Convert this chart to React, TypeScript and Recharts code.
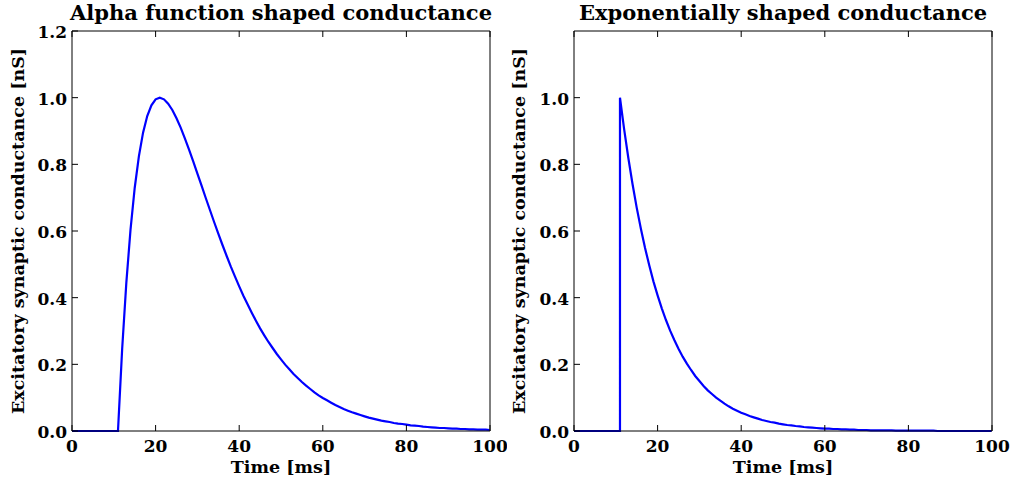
import React from 'react';
import { LineChart, Line, XAxis, YAxis } from 'recharts';

// Time samples (ms) shared by both traces after onset
const decayTimes = [
  12, 13, 14, 15, 16, 17, 18, 19, 20, 21,
  22, 23, 24, 25, 26, 27, 28, 29, 30, 31,
  32, 33, 34, 35, 36, 37, 38, 39, 40, 41,
  42, 43, 44, 45, 46, 47, 48, 49, 50, 51,
  52, 53, 54, 55, 56, 57, 58, 59, 60, 61,
  62, 63, 64, 65, 66, 67, 68, 69, 70, 71,
  72, 73, 74, 75, 76, 77, 78, 79, 80, 81,
  82, 83, 84, 85, 86, 87, 88, 89, 90, 91,
  92, 93, 94, 95, 96, 97, 98, 99, 99.9,
];

const alphaTimes = [0, 11, ...decayTimes];
const alphaValues = [
  0, 0,
  0.246, 0.445, 0.604, 0.729, 0.824, 0.895, 0.945, 0.977, 0.995, 1.0,
  0.995, 0.982, 0.963, 0.938, 0.91, 0.878, 0.844, 0.809, 0.772, 0.736,
  0.699, 0.663, 0.627, 0.592, 0.558, 0.525, 0.493, 0.463, 0.434, 0.406,
  0.38, 0.355, 0.331, 0.308, 0.287, 0.267, 0.249, 0.231, 0.215, 0.199,
  0.185, 0.171, 0.159, 0.147, 0.136, 0.126, 0.116, 0.107, 0.099, 0.092,
  0.085, 0.078, 0.072, 0.066, 0.061, 0.056, 0.052, 0.048, 0.044, 0.04,
  0.037, 0.034, 0.031, 0.029, 0.027, 0.024, 0.022, 0.021, 0.019, 0.017,
  0.016, 0.015, 0.013, 0.012, 0.011, 0.01, 0.009, 0.009, 0.008, 0.007,
  0.007, 0.006, 0.006, 0.005, 0.005, 0.004, 0.004, 0.004, 0.003,
];

const expTimes = [0, 11, 11, ...decayTimes];
const expValues = [
  0, 0, 1.0,
  0.905, 0.819, 0.741, 0.67, 0.607, 0.549, 0.497, 0.449, 0.407, 0.368,
  0.333, 0.301, 0.273, 0.247, 0.223, 0.202, 0.183, 0.165, 0.15, 0.135,
  0.122, 0.111, 0.1, 0.091, 0.082, 0.074, 0.067, 0.061, 0.055, 0.05,
  0.045, 0.041, 0.037, 0.033, 0.03, 0.027, 0.025, 0.022, 0.02, 0.018,
  0.017, 0.015, 0.014, 0.012, 0.011, 0.01, 0.009, 0.008, 0.007, 0.007,
  0.006, 0.006, 0.005, 0.005, 0.004, 0.004, 0.003, 0.003, 0.003, 0.002,
  0.002, 0.002, 0.002, 0.002, 0.002, 0.001, 0.001, 0.001, 0.001, 0.001,
  0.001, 0.001, 0.001, 0.001, 0.001, 0, 0, 0, 0, 0,
  0, 0, 0, 0, 0, 0, 0, 0, 0,
];

const xTicks = [0, 20, 40, 60, 80, 100];
const yTicksAlpha = [0, 0.2, 0.4, 0.6, 0.8, 1.0, 1.2];
const yTicksExp = [0, 0.2, 0.4, 0.6, 0.8, 1.0];

const titles = ['Alpha function shaped conductance', 'Exponentially shaped conductance'];
const xLabel = 'Time [ms]';
const yLabel = 'Excitatory synaptic conductance [nS]';

const FONT = '"DejaVu Serif", serif';
const TICK_LEN = 6;
const TICK_FS = 17;
const LABEL_FS = 17.5;
const TITLE_FS = 21;

const BottomTick = (props: any) => {
  const { x, y, payload } = props;
  return (
    <g>
      <line x1={x} y1={y} x2={x} y2={y - TICK_LEN} stroke="#000" strokeWidth={1} />
      <text x={x} y={y + 21} textAnchor="middle" fontFamily={FONT} fontWeight="bold" fontSize={TICK_FS} fill="#000">
        {payload.value}
      </text>
    </g>
  );
};

const TopTick = (props: any) => {
  const { x, y } = props;
  return <line x1={x} y1={y} x2={x} y2={y + TICK_LEN} stroke="#000" strokeWidth={1} />;
};

const LeftTick = (props: any) => {
  const { x, y, payload } = props;
  return (
    <g>
      <line x1={x} y1={y} x2={x + TICK_LEN} y2={y} stroke="#000" strokeWidth={1} />
      <text x={x - 5} y={y + 7} textAnchor="end" fontFamily={FONT} fontWeight="bold" fontSize={TICK_FS} fill="#000">
        {Number(payload.value).toFixed(1)}
      </text>
    </g>
  );
};

const RightTick = (props: any) => {
  const { x, y } = props;
  return <line x1={x} y1={y} x2={x - TICK_LEN} y2={y} stroke="#000" strokeWidth={1} />;
};

type PanelProps = {
  times: number[];
  values: number[];
  title: string;
  yTicks: number[];
  leftWidth: number;
  rightWidth: number;
  left: number;
  yLabelX: number;
};

const Panel = ({ times, values, title, yTicks, leftWidth, rightWidth, left, yLabelX }: PanelProps) => {
  const data = times.map((t, i) => ({ t, g: values[i] }));
  return (
    <div style={{ position: 'absolute', left, top: 0 }}>
      <LineChart width={507} height={483} data={data} margin={{ top: 0, right: 0, bottom: 0, left: 0 }}>
        <XAxis
          xAxisId="bottom"
          dataKey="t"
          type="number"
          domain={[0, 100]}
          ticks={xTicks}
          interval={0}
          height={52}
          tickSize={0}
          tickMargin={0}
          tickLine={false}
          axisLine={{ stroke: '#000', strokeWidth: 1 }}
          tick={<BottomTick />}
          label={{
            content: (p: any) => {
              const vb = p.viewBox;
              return (
                <text x={vb.x + vb.width / 2} y={vb.y + 42} textAnchor="middle" fontFamily={FONT} fontWeight="bold" fontSize={LABEL_FS} fill="#000">
                  {xLabel}
                </text>
              );
            },
          }}
        />
        <XAxis
          xAxisId="top"
          orientation="top"
          dataKey="t"
          type="number"
          domain={[0, 100]}
          ticks={xTicks}
          interval={0}
          height={31}
          tickSize={0}
          tickMargin={0}
          tickLine={false}
          axisLine={{ stroke: '#000', strokeWidth: 1 }}
          tick={<TopTick />}
          label={{
            content: (p: any) => {
              const vb = p.viewBox;
              return (
                <text x={vb.x + vb.width / 2} y={20} textAnchor="middle" fontFamily={FONT} fontWeight="bold" fontSize={TITLE_FS} fill="#000">
                  {title}
                </text>
              );
            },
          }}
        />
        <YAxis
          yAxisId="left"
          type="number"
          domain={[0, 1.2]}
          ticks={yTicks}
          interval={0}
          width={leftWidth}
          tickSize={0}
          tickMargin={0}
          tickLine={false}
          axisLine={{ stroke: '#000', strokeWidth: 1 }}
          tick={<LeftTick />}
          label={{
            content: (p: any) => {
              const vb = p.viewBox;
              const cx = vb.x + yLabelX;
              const cy = vb.y + vb.height / 2;
              return (
                <text x={cx} y={cy} transform={`rotate(-90 ${cx} ${cy})`} textAnchor="middle" dominantBaseline="central" fontFamily={FONT} fontWeight="bold" fontSize={LABEL_FS} fill="#000">
                  {yLabel}
                </text>
              );
            },
          }}
        />
        <YAxis
          yAxisId="right"
          orientation="right"
          type="number"
          domain={[0, 1.2]}
          ticks={yTicks}
          interval={0}
          width={rightWidth}
          tickSize={0}
          tickMargin={0}
          tickLine={false}
          axisLine={{ stroke: '#000', strokeWidth: 1 }}
          tick={<RightTick />}
        />
        <Line
          xAxisId="bottom"
          yAxisId="left"
          dataKey="g"
          type="linear"
          stroke="#0000ff"
          strokeWidth={2.2}
          dot={false}
          activeDot={false}
          isAnimationActive={false}
        />
      </LineChart>
    </div>
  );
};

export default function App() {
  return (
    <div style={{ position: 'absolute', left: 0, top: 0, width: 1014, height: 483, background: '#fff' }}>
      <Panel times={alphaTimes} values={alphaValues} title={titles[0]} yTicks={yTicksAlpha} leftWidth={72} rightWidth={17} left={0} yLabelX={18} />
      <Panel times={expTimes} values={expValues} title={titles[1]} yTicks={yTicksExp} leftWidth={67} rightWidth={22} left={507} yLabelX={12} />
    </div>
  );
}
